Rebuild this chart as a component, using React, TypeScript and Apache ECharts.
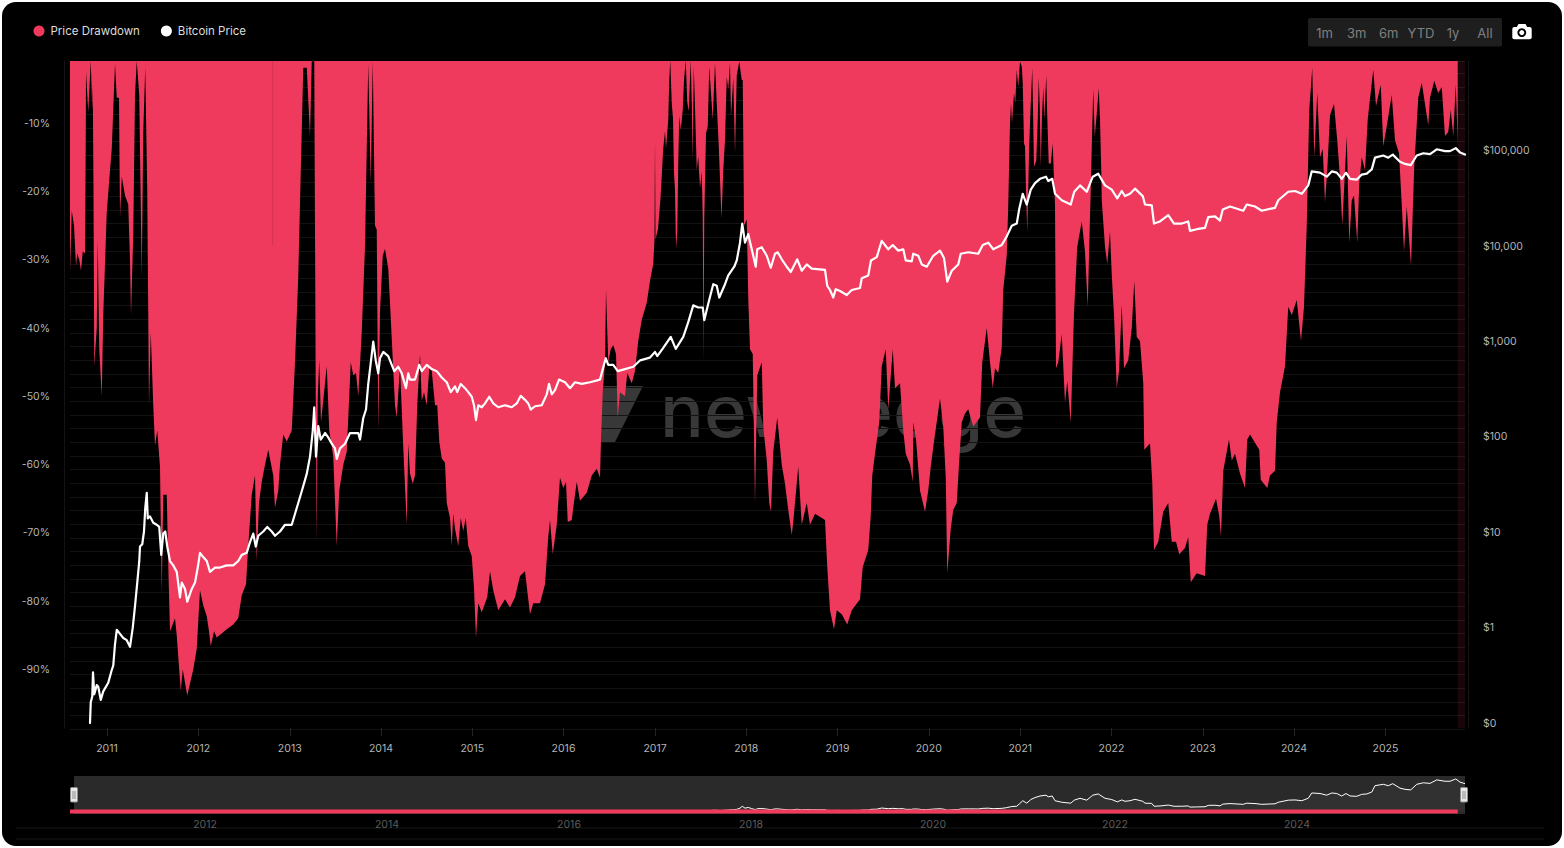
import React, { useEffect, useRef } from "react";
import * as echarts from "echarts";

const DAY_MS = 86400000;
const START_MS = Date.UTC(2010, 7, 6);
const LAST_DAY = 5580;
const DRAWDOWN_END_DAY = 5551;

const YEAR_TICKS = [2011, 2012, 2013, 2014, 2015, 2016, 2017, 2018, 2019, 2020, 2021, 2022, 2023, 2024, 2025];
const MINI_TICK_DAYS = [540, 1268, 1996, 2724, 3452, 4180, 4908];
const MINI_TICK_LABELS = ["2012", "2014", "2016", "2018", "2020", "2022", "2024"];
const DRAWDOWN_TICKS = [-10, -20, -30, -40, -50, -60, -70, -80, -90];
const RANGE_BUTTONS = ["1m", "3m", "6m", "YTD", "1y", "All"];

// [days since 2010-08-06, drawdown %]
const drawdown2010to2013 = [
  [0, -31.9], [7, -22.8], [16, -25], [24, -30.9], [29, -29.1], [37, -30], [44, -31.6], [51, -28.8], [60, -29.1], [63, -12], [64, -2.5],
  [73, -8.4], [83, -0.9], [89, -8.1], [91, -4.4], [94, -20], [97, -45.6], [107, -40], [111, -27.2], [117, -43.1], [127, -50], [133, -38.1],
  [147, -23.1], [160, -16.9], [167, -13.8], [173, -8.1], [180, -1.3], [187, -6.3], [196, -6.3], [200, -23.8], [207, -17.8], [220, -20.6],
  [233, -21.9], [240, -30], [244, -38.1], [253, -26.3], [260, -5.9], [267, -0.9], [277, -5.9], [287, -32.5], [293, -11.3], [301, -1.9],
  [309, -20], [316, -51.3], [323, -40.6], [333, -51.3], [340, -57.2], [349, -55], [360, -60.3], [367, -78.8], [373, -64.4], [387, -64.4],
  [393, -74.7], [400, -84.4], [420, -82.5], [427, -85], [443, -93.1], [451, -90], [469, -93.8], [493, -90], [507, -86.9], [520, -78.4],
  [533, -80.6], [547, -82.2], [556, -84.4], [563, -86.6], [576, -84.4], [587, -85.3], [627, -84.1], [653, -83.4], [673, -82.5], [687, -79.1],
  [704, -77.5], [713, -71.9], [727, -64.4], [740, -61.6], [747, -74.1], [756, -65.6], [767, -62.5], [780, -60], [793, -57.8], [813, -61.6],
  [820, -66.3], [833, -63.8], [840, -60], [853, -55.6], [867, -56.6], [887, -55], [900, -45], [913, -32.5], [933, -1.9], [947, -1.9],
  [960, -11.9], [967, -0.9], [977, -0.9], [983, -50], [987, -71.3], [991, -50], [997, -44.7], [1004, -53.8], [1013, -50.6], [1027, -45.6],
  [1037, -55], [1053, -58.8], [1067, -71.9], [1077, -63.8], [1093, -60], [1107, -58.1], [1123, -45], [1133, -46.9], [1144, -46.6], [1153, -50],
  [1167, -40.6], [1180, -28.1], [1193, -1.3], [1203, -18.8], [1211, -0.9], [1220, -25], [1227, -25.6], [1233, -55], [1240, -37.5], [1251, -29.4],
  [1260, -28.4], [1273, -31.3], [1280, -36.3], [1300, -51.3], [1307, -53.1], [1320, -45.6], [1333, -57.5], [1347, -68.8], [1353, -56.9],
];
const drawdown2014to2017 = [
  [1360, -61.3], [1371, -62.8], [1380, -61.6], [1389, -51.3], [1400, -43.8], [1407, -50.6], [1416, -49.4], [1427, -51.3], [1437, -45.9], [1447, -46.3],
  [1460, -51.3], [1469, -51.3], [1477, -56.6], [1487, -59.1], [1500, -59.7], [1507, -65.6], [1520, -67.8], [1527, -71.9], [1533, -67.2], [1540, -69.4],
  [1553, -71.9], [1563, -67.8], [1573, -69.7], [1583, -67.8], [1593, -71.9], [1607, -73.4], [1616, -78.1], [1624, -85.3], [1633, -80.3], [1647, -81.6],
  [1669, -79.4], [1680, -75.6], [1693, -78.4], [1713, -81.3], [1740, -79.7], [1760, -80.9], [1780, -79.4], [1800, -76.3], [1820, -75.6], [1840, -81.9],
  [1853, -80.3], [1880, -80.3], [1900, -77.5], [1913, -70.6], [1920, -68.1], [1931, -73.1], [1947, -68.8], [1960, -61.9], [1973, -63.4], [1984, -62.5],
  [1991, -68.4], [2007, -68.1], [2013, -66.3], [2027, -62.5], [2040, -65.3], [2067, -64.1], [2087, -61.6], [2107, -60.6], [2120, -61.9], [2124, -56.3],
  [2131, -49.4], [2140, -45], [2144, -34.4], [2153, -45], [2163, -43.1], [2173, -42.5], [2184, -43.8], [2191, -53.1], [2200, -49.4], [2220, -50],
  [2229, -46.6], [2247, -48.1], [2260, -46.3], [2273, -41.9], [2287, -38.8], [2307, -36.3], [2320, -33.1], [2333, -30.6], [2338, -27], [2340, -12.5],
  [2342, -27], [2352, -25.5], [2362, -21], [2373, -13.7], [2380, -11.2], [2384, -13.7], [2393, -9.5], [2397, -3.7], [2401, -0.8], [2407, -7.1],
  [2412, -9.3], [2416, -17.3], [2420, -19.8], [2424, -28.4], [2429, -26], [2433, -15.9], [2437, -9], [2443, -11], [2451, -8.1], [2456, -3.7],
  [2463, -0.8], [2469, -6.9], [2475, -8.3], [2483, -0.8], [2487, -7.1], [2491, -15.4], [2495, -1.7], [2500, -7.6], [2507, -16.9], [2513, -14.9],
  [2520, -19.5], [2527, -17.1], [2531, -24], [2534, -45], [2537, -24], [2544, -11.5], [2551, -10.5], [2557, -1.7], [2564, -5.6], [2571, -9.5],
  [2580, -1.2], [2587, -7.1], [2595, -13.4], [2606, -24], [2613, -16.9], [2620, -12.5], [2627, -3.2], [2633, -5.1], [2640, -1.2], [2644, -9],
  [2653, -3.4], [2660, -14.4], [2667, -3], [2677, -1], [2687, -3.7], [2691, -3.7], [2695, -19.8],
];
const drawdown2018to2021 = [
  [2696, -25], [2707, -24.1], [2713, -35.6], [2720, -43.1], [2731, -43.8], [2740, -65.6], [2749, -46.9], [2767, -45], [2773, -54.4], [2787, -59.4],
  [2797, -65.6], [2804, -66.9], [2813, -58.1], [2829, -53.1], [2847, -60], [2860, -62.8], [2873, -66.6], [2887, -70.3], [2893, -68.4], [2913, -60.3],
  [2927, -68.8], [2947, -65.6], [2960, -68.8], [2980, -67.2], [3020, -68.1], [3029, -75], [3040, -81.3], [3056, -84.1], [3067, -81.3], [3087, -81.9],
  [3109, -83.4], [3127, -81.3], [3160, -79.7], [3171, -75], [3193, -72.5], [3203, -67.5], [3209, -61.6], [3220, -58.4], [3237, -53.8], [3247, -45.6],
  [3263, -43.1], [3273, -51.9], [3291, -43.1], [3300, -48.8], [3320, -48.1], [3333, -55], [3343, -58.4], [3360, -60], [3371, -62.5], [3373, -53.8],
  [3384, -56.3], [3400, -63.8], [3420, -66.9], [3433, -63.8], [3443, -60.3], [3456, -56.6], [3480, -50.3], [3493, -54.4], [3503, -61.9], [3509, -75.9],
  [3523, -69.4], [3533, -66.6], [3547, -65.6], [3557, -59.4], [3567, -53.8], [3580, -52.5], [3593, -51.9], [3613, -54.4], [3640, -53.1], [3649, -45],
  [3667, -40], [3680, -45], [3691, -48.8], [3700, -45.9], [3713, -46.6], [3727, -42.8], [3733, -34.4], [3747, -29.4], [3753, -22], [3760, -10],
  [3764, -7.1], [3768, -10], [3776, -5.6], [3781, -7.1], [3787, -2.2], [3793, -4.7], [3800, -1], [3807, -1.7], [3811, -4.2], [3816, -13],
  [3820, -13.4], [3824, -19.8], [3829, -26], [3837, -13], [3843, -7.1], [3849, -2], [3853, -10], [3856, -16.4], [3865, -15.5], [3871, -9.5],
  [3875, -3.4], [3879, -7.6], [3883, -16.4], [3888, -9], [3893, -4.7], [3897, -9.5], [3905, -3], [3909, -9], [3915, -15.9], [3923, -15.9],
  [3931, -13], [3935, -17.3], [3940, -22], [3944, -45.9], [3953, -45], [3967, -40.9], [3980, -50.9], [3989, -47.8], [4003, -53.8], [4016, -37.8],
  [4029, -28.1], [4047, -24.4], [4060, -28.8], [4071, -36.9], [4079, -25], [4083, -19.8], [4088, -12], [4093, -5.1], [4099, -12], [4107, -8.6],
  [4115, -4.9], [4120, -9.5], [4125, -16.9],
];
const drawdown2022to2025 = [
  [4127, -21.3], [4140, -28.1], [4149, -30.6], [4160, -25.9], [4167, -32.2], [4176, -38.1], [4187, -48.8], [4196, -46.3], [4207, -36.6], [4216, -45.9],
  [4233, -44.7], [4247, -40], [4257, -33.1], [4267, -41.3], [4280, -41.9], [4293, -48.1], [4297, -57.8], [4320, -56.9], [4329, -62.5], [4336, -72.5],
  [4353, -71.3], [4373, -66.9], [4393, -65.6], [4407, -71.3], [4424, -71.3], [4437, -73.1], [4460, -72.2], [4473, -70.6], [4483, -77.2], [4507, -75.9],
  [4540, -76.3], [4549, -68.8], [4560, -67.2], [4584, -65], [4597, -67.5], [4604, -70.6], [4613, -60.9], [4636, -56.3], [4647, -59.4], [4660, -58.4],
  [4680, -61.3], [4700, -63.4], [4709, -56.3], [4720, -55.6], [4757, -57.8], [4763, -62.2], [4789, -63.4], [4800, -61.6], [4820, -60.9], [4827, -53.8],
  [4840, -49.4], [4860, -45.6], [4873, -36.9], [4887, -38.1], [4907, -35.9], [4924, -41.9], [4936, -36.9], [4947, -25], [4957, -8.1], [4969, -1.9],
  [4977, -15], [4989, -5.6], [5000, -15], [5011, -13.8], [5020, -21.6], [5029, -16.9], [5040, -8.8], [5056, -7.2], [5069, -12.5], [5080, -18.1],
  [5089, -25], [5107, -11.9], [5117, -27.5], [5127, -21.3], [5136, -20.6], [5149, -27.5], [5157, -18.8], [5167, -15], [5180, -16.9], [5191, -9.4],
  [5213, -2.2], [5224, -7.5], [5243, -4.4], [5253, -13.4], [5269, -10], [5287, -5.9], [5300, -12.5], [5316, -14.4], [5327, -21.9], [5336, -28.8],
  [5347, -22.2], [5364, -30.9], [5377, -16.3], [5393, -6.3], [5407, -4.1], [5420, -7.2], [5433, -10.3], [5440, -6.3], [5457, -3.8], [5473, -5.6],
  [5487, -4.7], [5500, -11.9], [5513, -11.3], [5523, -8.1], [5533, -11.9], [5543, -4.4], [5551, -13.1],
];

// [days since 2010-08-06, price in USD]
const price2010to2013 = [
  [80, 0.1], [83, 0.165], [89, 0.19], [92, 0.34], [97, 0.2], [107, 0.25], [113, 0.24], [123, 0.175], [133, 0.215], [153, 0.265],
  [167, 0.36], [173, 0.4], [180, 0.67], [187, 0.95], [200, 0.86], [213, 0.78], [227, 0.74], [240, 0.63], [251, 1], [260, 1.68],
  [269, 2.97], [277, 4.98], [280, 7.1], [289, 7.5], [296, 10.2], [301, 18], [307, 26], [311, 14], [320, 14.7], [333, 12.6],
  [347, 12], [357, 11.4], [365, 5.8], [373, 9.7], [381, 10.2], [389, 7.1], [400, 5], [413, 4.5], [427, 3.85], [440, 2.08],
  [447, 2.97], [460, 2.55], [469, 1.87], [487, 2.55], [500, 2.97], [511, 4.27], [520, 6.1], [533, 5.5], [547, 5], [560, 3.85],
  [580, 4.27], [600, 4.27], [627, 4.5], [653, 4.5], [673, 5], [687, 5.8], [707, 6.1], [720, 7.9], [733, 9.7], [743, 7.1],
  [753, 9.2], [773, 10.2], [789, 11.4], [807, 10.2], [820, 9.2], [840, 10.2], [860, 12], [887, 12], [907, 18], [927, 27],
  [947, 41], [960, 62], [971, 116], [977, 205], [984, 62], [993, 130], [1003, 94], [1020, 110], [1033, 99], [1047, 85],
  [1060, 76], [1067, 59], [1080, 76], [1100, 85], [1120, 110], [1153, 110], [1160, 94], [1173, 158], [1184, 194], [1193, 360],
  [1203, 600], [1213, 1000], [1223, 635], [1233, 465], [1240, 670], [1253, 780], [1273, 705], [1287, 570], [1297, 490], [1313, 545],
  [1327, 465], [1344, 325], [1353, 465], [1360, 400],
];
const price2014to2017 = [
  [1380, 400], [1397, 570], [1407, 490], [1427, 570], [1447, 515], [1467, 490], [1487, 420], [1507, 375], [1523, 295], [1540, 340],
  [1549, 295], [1563, 360], [1580, 325], [1593, 295], [1607, 264], [1616, 215], [1624, 150], [1633, 215], [1647, 205], [1660, 225],
  [1677, 264], [1693, 225], [1713, 205], [1740, 215], [1767, 205], [1787, 225], [1803, 270], [1820, 245], [1833, 225], [1843, 194],
  [1860, 210], [1887, 215], [1907, 280], [1916, 360], [1927, 280], [1940, 310], [1956, 400], [1980, 375], [2000, 325], [2020, 375],
  [2047, 360], [2080, 375], [2120, 400], [2131, 515], [2143, 670], [2153, 570], [2173, 570], [2191, 490], [2220, 515], [2253, 545],
  [2280, 635], [2320, 680], [2340, 780], [2349, 705], [2373, 860], [2403, 1120], [2423, 840], [2453, 1120], [2473, 1600], [2493, 2400],
  [2513, 2280], [2531, 2280], [2537, 1680], [2553, 2500], [2573, 4000], [2587, 3850], [2597, 2900], [2620, 4000], [2633, 4950], [2657, 6100],
  [2667, 7100], [2680, 10900], [2689, 17300],
];
const price2018to2021 = [
  [2700, 10900], [2713, 13400], [2727, 9300], [2743, 6100], [2749, 9300], [2767, 9770], [2787, 7950], [2803, 5950], [2820, 8350], [2831, 8650],
  [2847, 7300], [2867, 6100], [2883, 5370], [2909, 7300], [2927, 5540], [2947, 6450], [2967, 5830], [3020, 5650], [3029, 3850], [3040, 3480],
  [3053, 2900], [3063, 3550], [3080, 3400], [3107, 3080], [3127, 3480], [3160, 3650], [3167, 4620], [3193, 4950], [3204, 7100], [3227, 7700],
  [3247, 11400], [3273, 9300], [3291, 10300], [3313, 9000], [3333, 9300], [3343, 7100], [3367, 6950], [3373, 8350], [3393, 7950], [3407, 6450],
  [3427, 6100], [3453, 7950], [3480, 9000], [3496, 7550], [3509, 4250], [3527, 5540], [3553, 6450], [3563, 8350], [3593, 8650], [3633, 8350],
  [3651, 10300], [3673, 10900], [3693, 9300], [3727, 10300], [3747, 12700], [3767, 16400], [3787, 17300], [3797, 24700], [3811, 35500], [3827, 27400],
  [3843, 39300], [3860, 45900], [3880, 51000], [3904, 53700], [3913, 48400], [3929, 51000], [3940, 35500], [3967, 30400], [4003, 27400], [4017, 37300],
  [4040, 43500], [4067, 37300], [4091, 53700], [4113, 57700],
];
const price2022to2025 = [
  [4140, 43500], [4167, 39300], [4189, 31800], [4207, 38000], [4220, 33600], [4240, 35500], [4260, 40200], [4291, 33600], [4300, 27400], [4327, 26800],
  [4336, 17300], [4360, 18200], [4393, 21200], [4416, 17300], [4447, 17300], [4473, 18200], [4480, 14500], [4507, 15100], [4540, 15600], [4553, 20200],
  [4580, 20600], [4600, 18600], [4611, 24300], [4640, 26100], [4693, 23600], [4707, 27400], [4740, 26100], [4767, 23600], [4820, 25300], [4833, 30400],
  [4873, 37300], [4900, 38000], [4927, 35500], [4953, 43500], [4967, 61000], [5000, 59200], [5027, 53700], [5047, 61000], [5067, 59200], [5087, 51000],
  [5104, 59200], [5120, 51000], [5147, 50000], [5167, 56500], [5187, 57700], [5207, 64000], [5220, 85000], [5253, 89500], [5273, 85000], [5291, 91500],
  [5320, 76900], [5340, 73000], [5363, 71000], [5387, 89500], [5413, 94500], [5440, 92500], [5467, 104000], [5500, 99500], [5520, 99500], [5543, 107000],
  [5560, 96500], [5580, 91700],
];

const RED = "#EF3A5D";
const FONT = "Inter";

const drawdownData = [...drawdown2010to2013, ...drawdown2014to2017, ...drawdown2018to2021, ...drawdown2022to2025];
const priceData = [...price2010to2013, ...price2014to2017, ...price2018to2021, ...price2022to2025];
const yearTickDays = YEAR_TICKS.map((y) => (Date.UTC(y, 0, 1) - START_MS) / DAY_MS);

const L = 70;
const W = 1395;
const R = 1564 - L - W;

function formatPrice(v: number) {
  const lg = Math.log10(v);
  if (Math.abs(lg - Math.round(lg)) > 0.005) return "";
  if (Math.round(lg) < 0) return "$0";
  return "$" + Math.round(v).toLocaleString("en-US");
}

function buildGraphics() {
  const g: any[] = [];
  g.push({ type: "rect", z: 0, shape: { x: 74, y: 776, width: 1391, height: 38 }, style: { fill: "#2a2a2a" }, silent: true });
  g.push({ type: "line", z: 0, shape: { x1: 16, y1: 828, x2: 1544, y2: 828 }, style: { stroke: "#171717", lineWidth: 1 }, silent: true });
  g.push({ type: "line", z: 0, shape: { x1: 16, y1: 839, x2: 1544, y2: 839 }, style: { stroke: "#171717", lineWidth: 1 }, silent: true });
  // watermark
  g.push({ type: "polygon", z: 0, shape: { points: [[600, 386], [643, 386], [615, 442], [600, 442]] }, style: { fill: "#383838" }, silent: true });
  g.push({
    type: "text", z: 0, x: 660, y: 447, silent: true,
    style: { text: "newhedge", fill: "#383838", fontFamily: FONT, fontSize: 73, fontWeight: 500, textAlign: "left", textVerticalAlign: "bottom" },
  });
  // faint seam in the red area
  g.push({ type: "line", z: 10, shape: { x1: 272.7, y1: 61, x2: 272.7, y2: 245 }, style: { stroke: "rgba(0,0,0,0.12)", lineWidth: 1 }, silent: true });
  // range buttons
  g.push({ type: "rect", z: 1, shape: { x: 1308, y: 18, width: 194, height: 28.5, r: 2 }, style: { fill: "#1e1e1e" }, silent: true });
  const centres = [1324.5, 1356.7, 1388.7, 1421, 1453, 1485];
  RANGE_BUTTONS.forEach((t, i) => {
    g.push({
      type: "text", z: 2, x: centres[i], y: 33, silent: true,
      style: { text: t, fill: "#808080", fontFamily: FONT, fontSize: 13, textAlign: "center", textVerticalAlign: "middle" },
    });
  });
  // camera icon
  g.push({ type: "rect", z: 2, shape: { x: 1512.3, y: 27, width: 19.4, height: 12.3, r: 2 }, style: { fill: "#fff" }, silent: true });
  g.push({ type: "polygon", z: 2, shape: { points: [[1516.5, 27.5], [1518.5, 24], [1525.5, 24], [1527.5, 27.5]] }, style: { fill: "#fff" }, silent: true });
  g.push({ type: "circle", z: 3, shape: { cx: 1521.8, cy: 32.6, r: 4.4 }, style: { fill: "#000" }, silent: true });
  g.push({ type: "circle", z: 4, shape: { cx: 1521.8, cy: 32.6, r: 2.5 }, style: { fill: "#fff" }, silent: true });
  // range slider handles
  [70, 1460].forEach((x) => {
    g.push({ type: "rect", z: 20, shape: { x: x + 0.5, y: 787.5, width: 7, height: 14.5, r: 1 }, style: { fill: "#e8e8e8", stroke: "#8c8c8c", lineWidth: 1 }, silent: true });
    g.push({ type: "line", z: 21, shape: { x1: x + 3, y1: 791, x2: x + 3, y2: 799 }, style: { stroke: "#8c8c8c", lineWidth: 1 }, silent: true });
    g.push({ type: "line", z: 21, shape: { x1: x + 5, y1: 791, x2: x + 5, y2: 799 }, style: { stroke: "#8c8c8c", lineWidth: 1 }, silent: true });
  });
  return g;
}

export default function App() {
  const ref = useRef<HTMLDivElement>(null);
  useEffect(() => {
    document.body.style.margin = "0";
    const chart = echarts.init(ref.current!, undefined, { renderer: "svg" });
    chart.setOption({
      animation: false,
      backgroundColor: "transparent",
      textStyle: { fontFamily: FONT },
      legend: {
        data: ["Price Drawdown", "Bitcoin Price"],
        left: 28.5,
        top: 20,
        icon: "circle",
        itemWidth: 13,
        itemHeight: 11,
        itemGap: 21,
        selectedMode: false,
        textStyle: { color: "#dcdcdc", fontFamily: FONT, fontSize: 11.5, padding: [0, 0, 0, 0] },
      },
      grid: [
        { left: L, right: R, top: 61, height: 667 },
        { left: L, right: R, top: 776, height: 38 },
        { left: L, right: R, top: 61, height: 668.3 },
      ],
      xAxis: [
        {
          type: "value", gridIndex: 0, min: 0, max: LAST_DAY, splitLine: { show: false },
          axisLine: { show: false, onZero: false },
          axisTick: { show: true, customValues: yearTickDays, length: 8, lineStyle: { color: "#242424" } },
          axisLabel: {
            customValues: yearTickDays, color: "#b4b4b4", fontFamily: FONT, fontSize: 10.5, margin: 15,
            formatter: (d: number) => String(new Date(START_MS + (d + 1) * DAY_MS).getUTCFullYear()),
          },
        },
        {
          type: "value", gridIndex: 1, min: 0, max: LAST_DAY, splitLine: { show: false },
          axisLine: { show: false, onZero: false }, axisTick: { show: false },
          axisLabel: {
            customValues: MINI_TICK_DAYS, color: "#5c5c5c", fontFamily: FONT, fontSize: 10.5, margin: 5,
            formatter: (d: number) => MINI_TICK_LABELS[MINI_TICK_DAYS.indexOf(d)] ?? "",
          },
        },
        { type: "value", gridIndex: 2, min: 0, max: LAST_DAY, show: false },
      ],
      yAxis: [
        {
          type: "value", gridIndex: 0, position: "left", offset: 6, min: -98.55, max: -0.91,
          splitLine: { show: false },
          axisLine: { show: true, onZero: false, lineStyle: { color: "#141414" } },
          axisTick: { show: false },
          axisLabel: { customValues: DRAWDOWN_TICKS, color: "#b4b4b4", fontFamily: FONT, fontSize: 10.5, margin: 14, formatter: (v: number) => `${v}%` },
        },
        {
          type: "log", logBase: 10, gridIndex: 0, position: "right", offset: 3, min: 0.0887, max: 877000, splitNumber: 7,
          splitLine: { show: false }, minorSplitLine: { show: false },
          axisLine: { show: true, onZero: false, lineStyle: { color: "#141414" } },
          axisTick: { show: false },
          axisLabel: { color: "#b4b4b4", fontFamily: FONT, fontSize: 10.5, margin: 15, showMinLabel: true, showMaxLabel: true, formatter: formatPrice },
        },
        {
          type: "value", gridIndex: 1, min: -8224, max: 116800, show: false,
        },
        {
          type: "value", gridIndex: 2, min: 0, max: 48.9, interval: 1,
          axisLine: { show: false }, axisTick: { show: false }, axisLabel: { show: false },
          splitLine: { show: true, lineStyle: { color: "#131313", width: 1 } },
        },
      ],
      series: [
        {
          name: "Price Drawdown", type: "line", xAxisIndex: 0, yAxisIndex: 0, data: drawdownData,
          showSymbol: false, symbol: "none", z: 3,
          itemStyle: { color: RED },
          lineStyle: { width: 0, color: RED },
          areaStyle: { color: RED, opacity: 1, origin: "end" },
          markArea: {
            silent: true,
            itemStyle: { color: "rgba(240,57,94,0.1)" },
            data: [[{ xAxis: DRAWDOWN_END_DAY }, { xAxis: LAST_DAY }]],
          },
        },
        {
          name: "Bitcoin Price", type: "line", xAxisIndex: 0, yAxisIndex: 1, data: priceData,
          showSymbol: false, symbol: "none", z: 5,
          itemStyle: { color: "#ffffff" },
          lineStyle: { width: 2.2, color: "#ffffff", join: "round", cap: "round" },
        },
        {
          name: "Price Drawdown range", type: "line", xAxisIndex: 1, yAxisIndex: 2, data: drawdownData,
          showSymbol: false, symbol: "none", z: 4, clip: false,
          lineStyle: { width: 4, color: RED },
        },
        {
          name: "Bitcoin Price range", type: "line", xAxisIndex: 1, yAxisIndex: 2, data: priceData,
          showSymbol: false, symbol: "none", z: 3,
          lineStyle: { width: 1, color: "#ffffff" },
          areaStyle: { color: "rgba(255,255,255,0.05)" },
        },
      ],
      graphic: { elements: buildGraphics() },
    });
    return () => chart.dispose();
  }, []);

  return (
    <div style={{ position: "fixed", inset: 0, background: "#ffffff" }}>
      <div style={{ position: "absolute", left: 2, top: 2, width: 1560, height: 844, background: "#000", borderRadius: 14 }} />
      <div ref={ref} style={{ position: "absolute", left: 0, top: 0, width: 1564, height: 848 }} />
    </div>
  );
}
